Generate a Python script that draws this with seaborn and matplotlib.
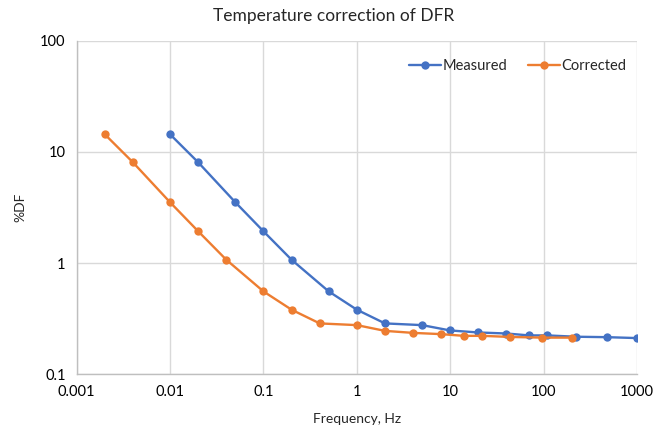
import matplotlib
matplotlib.use("Agg")
import matplotlib.pyplot as plt
import matplotlib.ticker as mticker
import numpy as np
import pandas as pd
import seaborn as sns

# Dissipation factor sweep, as measured and after temperature correction
measured_freq = [0.01, 0.02, 0.05, 0.1, 0.2, 0.5, 1, 2, 5, 10, 20, 40, 70, 110, 220, 480, 1000]
measured_df = [14.4, 8.06, 3.52, 1.93, 1.07, 0.555, 0.38, 0.286, 0.276, 0.247, 0.237,
               0.232, 0.223, 0.223, 0.217, 0.215, 0.211]
corrected_freq = [0.002, 0.004, 0.01, 0.02, 0.04, 0.1, 0.2, 0.4, 1, 2, 4, 8, 14, 22, 44, 96, 200]
corrected_df = [14.4, 8.06, 3.52, 1.93, 1.07, 0.555, 0.38, 0.286, 0.276, 0.245, 0.235,
                0.229, 0.221, 0.221, 0.216, 0.213, 0.213]

series_names = ["Measured", "Corrected"]
series_colors = ["#4472C4", "#ED7D31"]
x_ticks = [0.001, 0.01, 0.1, 1, 10, 100, 1000]
x_tick_labels = ["0.001", "0.01", "0.1", "1", "10", "100", "1000"]
y_ticks = [0.1, 1, 10, 100]
y_tick_labels = ["0.1", "1", "10", "100"]

data = pd.concat([
    pd.DataFrame({"Frequency": measured_freq, "DF": measured_df, "Series": series_names[0]}),
    pd.DataFrame({"Frequency": corrected_freq, "DF": corrected_df, "Series": series_names[1]}),
], ignore_index=True)

sns.set_theme(style="white")
plt.rcParams["font.family"] = ["Lato", "DejaVu Sans"]

fig = plt.figure(figsize=(6.67, 4.30), dpi=100)
ax = fig.add_axes([0.115, 0.130, 0.840, 0.775])

sns.lineplot(data=data, x="Frequency", y="DF", hue="Series",
             palette=dict(zip(series_names, series_colors)),
             marker="o", markersize=6, markeredgewidth=0, linewidth=1.7,
             sort=False, ax=ax)

ax.set_xscale("log")
ax.set_yscale("log")
ax.set_xlim(0.001, 1000)
ax.set_ylim(0.1, 100)

ax.xaxis.set_major_locator(mticker.FixedLocator(x_ticks))
ax.xaxis.set_major_formatter(mticker.FixedFormatter(x_tick_labels))
ax.xaxis.set_minor_locator(mticker.NullLocator())
ax.yaxis.set_major_locator(mticker.FixedLocator(y_ticks))
ax.yaxis.set_major_formatter(mticker.FixedFormatter(y_tick_labels))
ax.yaxis.set_minor_locator(mticker.NullLocator())

ax.grid(True, which="major", color="#d9d9d9", linewidth=1.0)
ax.set_axisbelow(True)
for side in ["top", "right"]:
    ax.spines[side].set_visible(False)
for side in ["left", "bottom"]:
    ax.spines[side].set_color("#bfbfbf")
    ax.spines[side].set_linewidth(1.0)

ax.tick_params(axis="both", length=0, labelsize=10.5, pad=8)
for lbl in ax.get_xticklabels() + ax.get_yticklabels():
    lbl.set_color("black")

ax.set_xlabel("Frequency, Hz", fontsize=10, color="#262626", labelpad=10)
ax.set_ylabel("%DF", fontsize=10, color="#262626", labelpad=10)
fig.suptitle("Temperature correction of DFR", fontsize=12.5, color="#262626", y=0.982)

leg = ax.legend(loc="upper right", bbox_to_anchor=(1.005, 0.985), ncol=2, frameon=False,
                fontsize=10.5, handlelength=2.2, handletextpad=0.1, columnspacing=1.4)
leg.set_title(None)

fig.savefig("out.png", dpi=100)
